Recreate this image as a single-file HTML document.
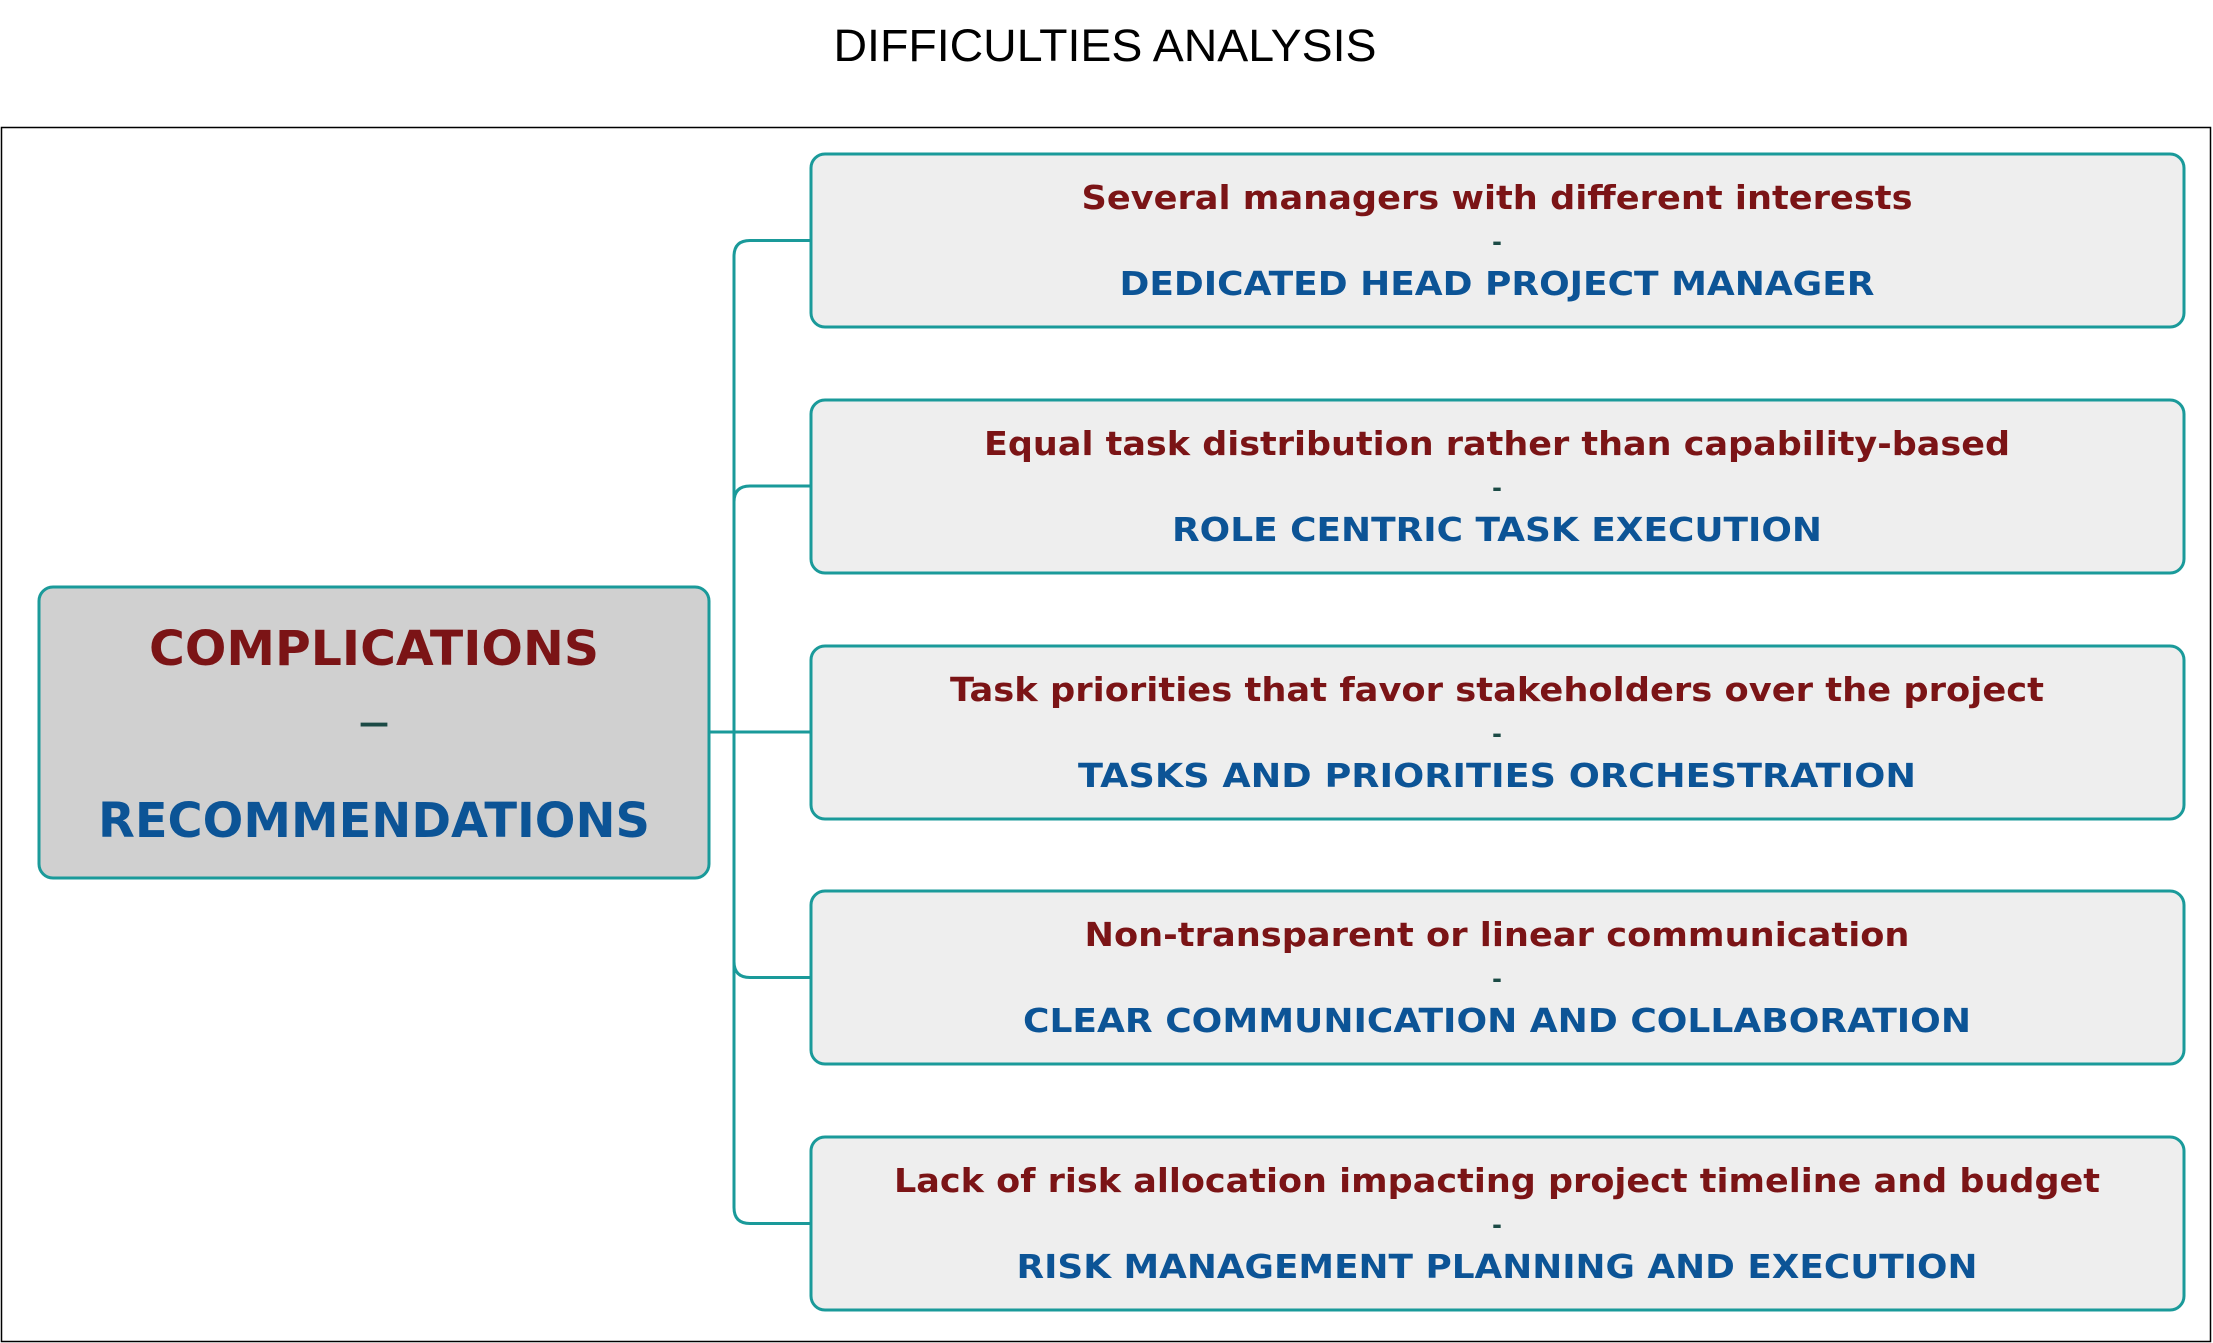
<!DOCTYPE html>
<html><head><meta charset="utf-8"><style>
html,body{margin:0;padding:0;background:#fff;}
svg{display:block;}
.b{font-family:"DejaVu Sans","Liberation Sans",sans-serif;font-weight:bold;text-anchor:middle;}
</style></head><body>
<svg width="2213" height="1343" viewBox="0 0 2213 1343" xmlns="http://www.w3.org/2000/svg">
<text x="1105" y="61" font-family="Liberation Sans, sans-serif" font-size="45" text-anchor="middle" fill="#000" textLength="543" lengthAdjust="spacingAndGlyphs">DIFFICULTIES ANALYSIS</text>
<rect x="1.5" y="127.5" width="2209" height="1214" fill="none" stroke="#000" stroke-width="1.5"/>
<g fill="none" stroke="#1a9a9a" stroke-width="3">
<path d="M709 732 H811"/>
<path d="M811 240.5 H750 Q734 240.5 734 256.5 V1207.5 Q734 1223.5 750 1223.5 H811"/>
<path d="M811 486 H750 Q734 486 734 502"/>
<path d="M811 977.5 H750 Q734 977.5 734 961.5"/>
</g>
<rect x="39" y="587" width="670" height="291" rx="14" fill="#d0d0d0" stroke="#1a9a9a" stroke-width="3"/>
<text class="b" x="374" y="665" font-size="48" fill="#7b1416" textLength="450" lengthAdjust="spacingAndGlyphs">COMPLICATIONS</text>
<text class="b" x="374" y="733" font-size="30" fill="#1b4a45">—</text>
<text class="b" x="374" y="837" font-size="48" fill="#0c5496" textLength="552" lengthAdjust="spacingAndGlyphs">RECOMMENDATIONS</text>
<g stroke="#1a9a9a" stroke-width="3" fill="#eeeeee">
<rect x="811" y="154" width="1373" height="173" rx="14"/>
<rect x="811" y="400" width="1373" height="173" rx="14"/>
<rect x="811" y="646" width="1373" height="173" rx="14"/>
<rect x="811" y="891" width="1373" height="173" rx="14"/>
<rect x="811" y="1137" width="1373" height="173" rx="14"/>
</g>
<g class="b" font-size="33">
<text x="1497" y="209" fill="#7b1416" textLength="831" lengthAdjust="spacingAndGlyphs">Several managers with different interests</text>
<text x="1497" y="250" fill="#1b4a45" font-size="24">-</text>
<text x="1497" y="295" fill="#0c5496" textLength="755" lengthAdjust="spacingAndGlyphs">DEDICATED HEAD PROJECT MANAGER</text>
<text x="1497" y="455" fill="#7b1416" textLength="1026" lengthAdjust="spacingAndGlyphs">Equal task distribution rather than capability-based</text>
<text x="1497" y="496" fill="#1b4a45" font-size="24">-</text>
<text x="1497" y="541" fill="#0c5496" textLength="650" lengthAdjust="spacingAndGlyphs">ROLE CENTRIC TASK EXECUTION</text>
<text x="1497" y="701" fill="#7b1416" textLength="1094" lengthAdjust="spacingAndGlyphs">Task priorities that favor stakeholders over the project</text>
<text x="1497" y="742" fill="#1b4a45" font-size="24">-</text>
<text x="1497" y="787" fill="#0c5496" textLength="838" lengthAdjust="spacingAndGlyphs">TASKS AND PRIORITIES ORCHESTRATION</text>
<text x="1497" y="946" fill="#7b1416" textLength="825" lengthAdjust="spacingAndGlyphs">Non-transparent or linear communication</text>
<text x="1497" y="987" fill="#1b4a45" font-size="24">-</text>
<text x="1497" y="1032" fill="#0c5496" textLength="948" lengthAdjust="spacingAndGlyphs">CLEAR COMMUNICATION AND COLLABORATION</text>
<text x="1497" y="1192" fill="#7b1416" textLength="1206" lengthAdjust="spacingAndGlyphs">Lack of risk allocation impacting project timeline and budget</text>
<text x="1497" y="1233" fill="#1b4a45" font-size="24">-</text>
<text x="1497" y="1278" fill="#0c5496" textLength="961" lengthAdjust="spacingAndGlyphs">RISK MANAGEMENT PLANNING AND EXECUTION</text>
</g>
</svg>
</body></html>
